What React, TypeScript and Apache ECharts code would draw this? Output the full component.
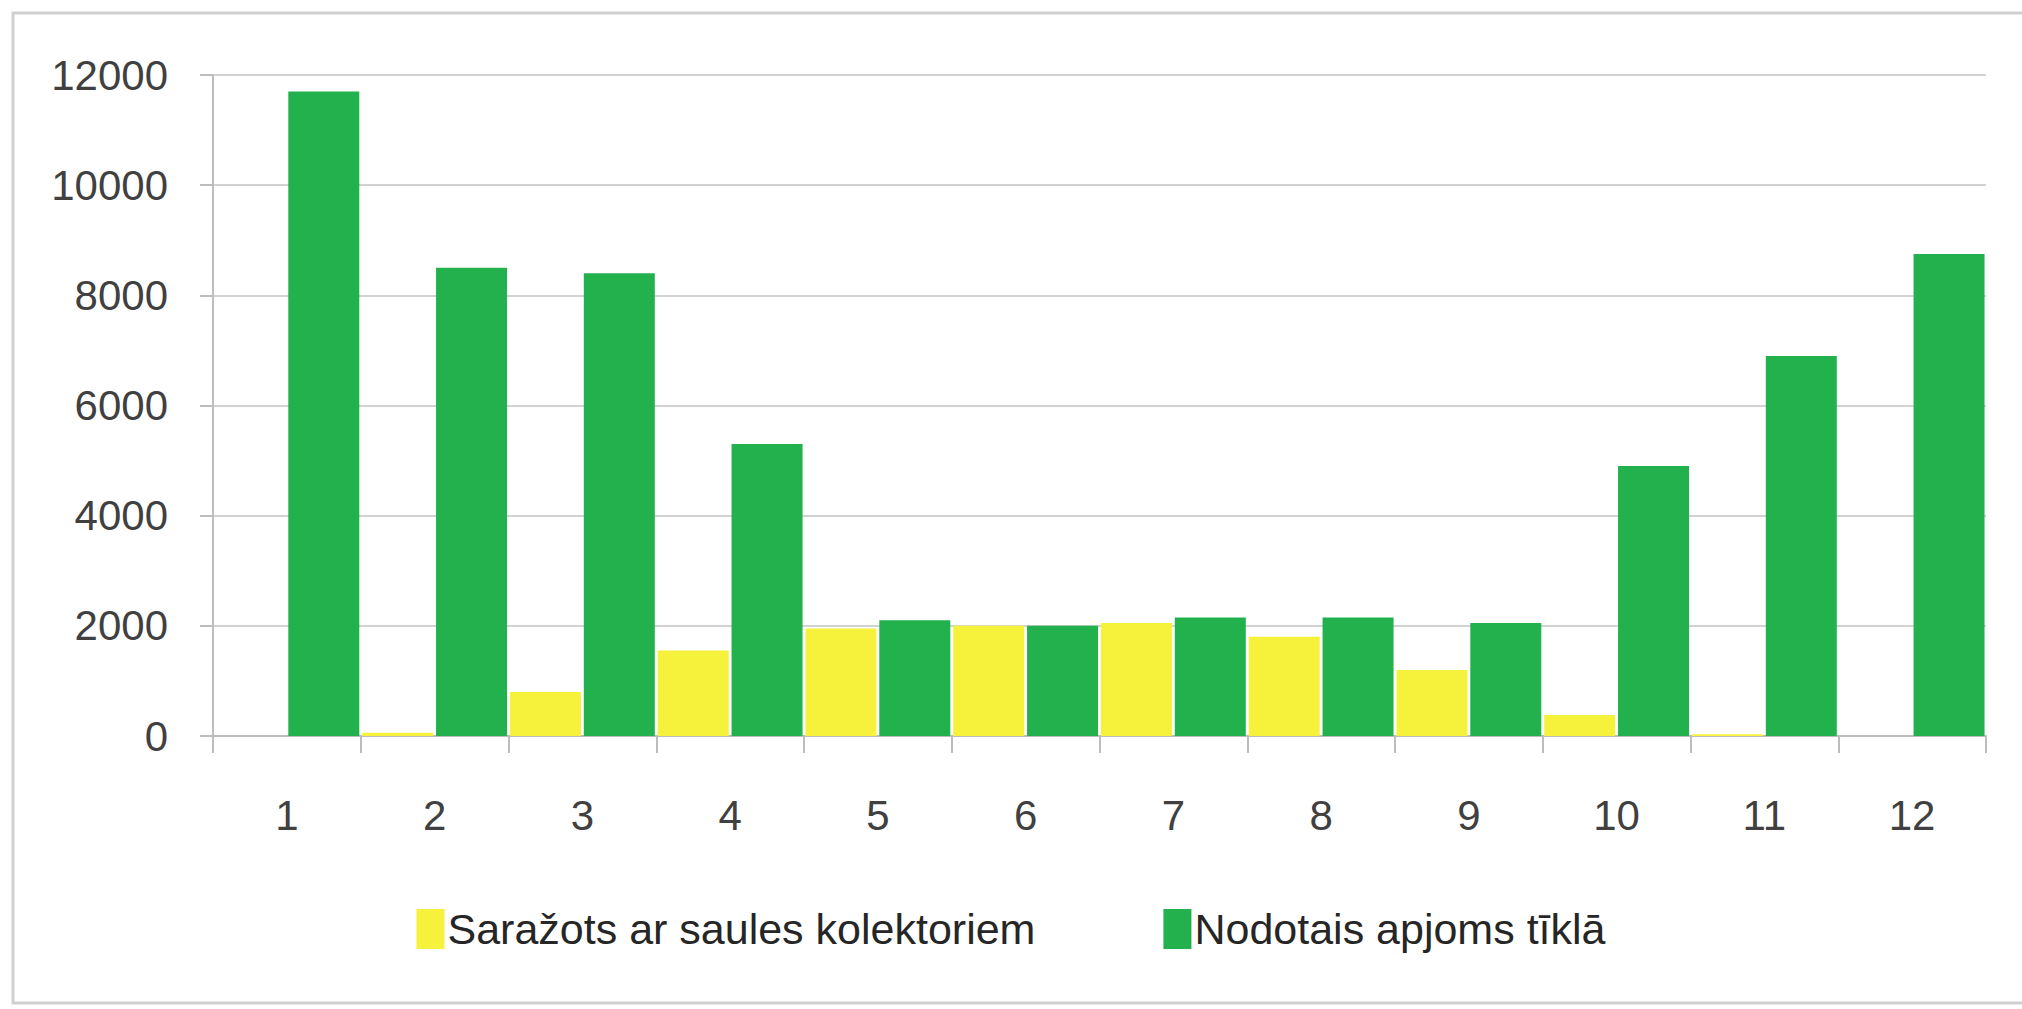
import React, { useEffect, useRef } from "react";
import * as echarts from "echarts";

const categories = ["1", "2", "3", "4", "5", "6", "7", "8", "9", "10", "11", "12"];
const solarValues = [0, 60, 800, 1550, 1950, 2000, 2050, 1800, 1200, 380, 30, 0];
const gridValues = [11700, 8500, 8400, 5300, 2100, 2000, 2150, 2150, 2050, 4900, 6900, 8750];
const seriesNames = ["Saražots ar saules kolektoriem", "Nodotais apjoms tīklā"];

const FONT = "'Liberation Sans', Arial, sans-serif";

export default function App() {
  const ref = useRef<HTMLDivElement>(null);
  useEffect(() => {
    if (!ref.current) return;
    const chart = echarts.init(ref.current, undefined, { renderer: "svg" });
    chart.setOption({
      animation: false,
      backgroundColor: "#ffffff",
      graphic: [
        {
          type: "rect",
          shape: { x: 13, y: 13, width: 2100, height: 990 },
          style: { fill: "none", stroke: "#cfcfcf", lineWidth: 3 },
          silent: true,
          z: -1,
        },
      ],
      grid: { left: 213, right: 36, top: 75, bottom: 273, containLabel: false },
      legend: {
        left: "center",
        top: 902,
        itemWidth: 28,
        itemHeight: 40,
        itemGap: 128,
        icon: "rect",
        textStyle: { fontFamily: FONT, fontSize: 43, color: "#262626", lineHeight: 44, padding: [0, 0, 0, -2] },
        data: seriesNames,
      },
      xAxis: {
        type: "category",
        data: categories,
        boundaryGap: true,
        axisLine: { show: true, lineStyle: { color: "#bdbdbd", width: 2 } },
        axisTick: { show: true, length: 17, lineStyle: { color: "#bdbdbd", width: 2 } },
        axisLabel: { margin: 58, fontFamily: FONT, fontSize: 42, color: "#404040" },
      },
      yAxis: {
        type: "value",
        min: 0,
        max: 12000,
        interval: 2000,
        axisLine: { show: true, lineStyle: { color: "#bdbdbd", width: 2 } },
        axisTick: { show: true, length: 13, lineStyle: { color: "#bdbdbd", width: 2 } },
        splitLine: { show: true, lineStyle: { color: "#d2d2d2", width: 2 } },
        axisLabel: {
          margin: 45,
          fontFamily: FONT,
          fontSize: 42,
          color: "#404040",
          formatter: (v: number) => String(v),
        },
      },
      series: [
        {
          name: seriesNames[0],
          type: "bar",
          data: solarValues,
          barWidth: 71,
          barGap: "4%",
          itemStyle: { color: "#f6f23c" },
        },
        {
          name: seriesNames[1],
          type: "bar",
          data: gridValues,
          barWidth: 71,
          barGap: "4%",
          itemStyle: { color: "#22b14c" },
        },
      ],
    });
    return () => chart.dispose();
  }, []);
  return (
    <div
      ref={ref}
      style={{ position: "fixed", left: 0, top: 0, width: 2022, height: 1009 }}
    />
  );
}
